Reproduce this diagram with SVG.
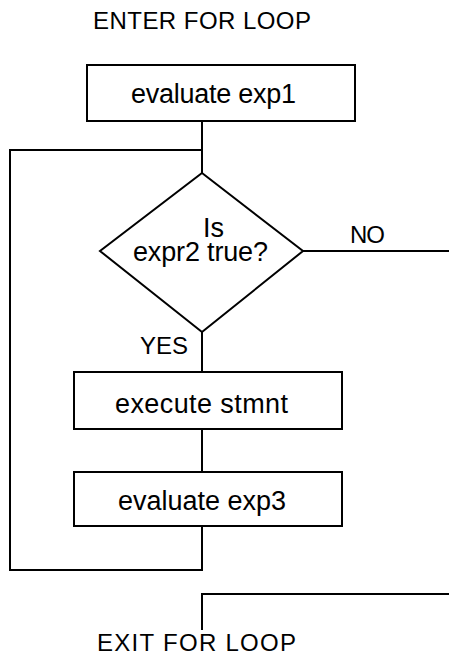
<svg xmlns="http://www.w3.org/2000/svg" width="449" height="655" viewBox="0 0 449 655">
  <style>
    .shape { fill: none; stroke: #000; stroke-width: 2; }
    .wire { fill: none; stroke: #000; stroke-width: 2; }
    .lbl { font-family: "Liberation Sans", Arial, sans-serif; fill: #000; }
    .big { font-size: 24px; }
    .txt { font-size: 27px; }
  </style>
  <rect width="449" height="655" fill="#fff"/>

  <g id="enter-label">
    <text class="lbl big" x="93" y="29" textLength="218" lengthAdjust="spacing">ENTER FOR LOOP</text>
  </g>

  <g id="eval-exp1">
    <rect class="shape" x="87" y="65" width="268" height="56"/>
    <text class="lbl txt" x="131" y="103" textLength="165" lengthAdjust="spacing">evaluate exp1</text>
  </g>

  <g id="test-expr2">
    <polygon class="shape" points="202,173 303,251 202,332 100,251"/>
    <text class="lbl txt" x="203" y="237">Is</text>
    <text class="lbl txt" x="133" y="261" textLength="135" lengthAdjust="spacing">expr2 true?</text>
  </g>

  <g id="exec-stmnt">
    <rect class="shape" x="74" y="372" width="268" height="57"/>
    <text class="lbl txt" x="115" y="413" textLength="173" lengthAdjust="spacing">execute stmnt</text>
  </g>

  <g id="eval-exp3">
    <rect class="shape" x="74" y="472" width="268" height="54"/>
    <text class="lbl txt" x="118" y="510" textLength="168" lengthAdjust="spacing">evaluate exp3</text>
  </g>

  <g id="exit-label">
    <text class="lbl big" x="97" y="651" textLength="199" lengthAdjust="spacing">EXIT FOR LOOP</text>
  </g>

  <g id="connectors">
    <path class="wire" d="M202,121 V173"/>
    <path class="wire" d="M202,150 H10 V570 H202 V526"/>
    <path class="wire" d="M202,332 V372"/>
    <path class="wire" d="M202,429 V472"/>
    <path class="wire" d="M303,251 H449"/>
    <path class="wire" d="M449,594 H202 V630"/>
    <text class="lbl big" x="350" y="243" textLength="35" lengthAdjust="spacing">NO</text>
    <text class="lbl big" x="140" y="354" textLength="48" lengthAdjust="spacing">YES</text>
  </g>
</svg>
